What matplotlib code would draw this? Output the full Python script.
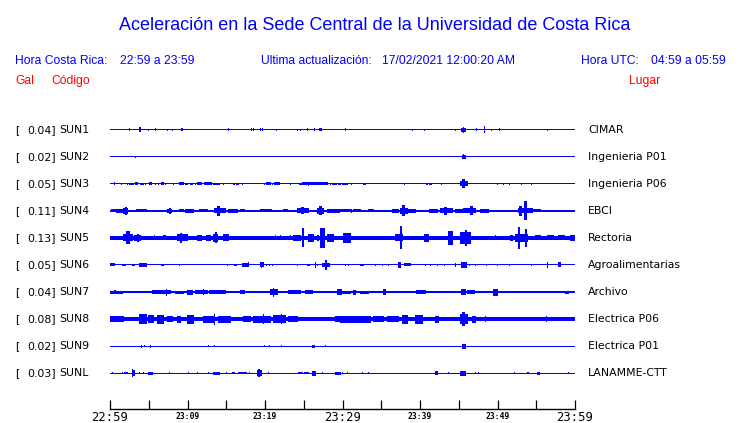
import matplotlib
matplotlib.use("Agg")
import matplotlib.pyplot as plt
from matplotlib import transforms

# ---------------- data ----------------
title = "Aceleración en la Sede Central de la Universidad de Costa Rica"
codes = ["SUN1", "SUN2", "SUN3", "SUN4", "SUN5", "SUN6", "SUN7", "SUN8", "SUN9", "SUNL"]
peak_gal = [0.04, 0.02, 0.05, 0.11, 0.13, 0.05, 0.04, 0.08, 0.02, 0.03]
places = ["CIMAR", "Ingenieria P01", "Ingenieria P06", "EBCI", "Rectoria",
          "Agroalimentarias", "Archivo", "Electrica P06", "Electrica P01", "LANAMME-CTT"]
tick_minutes = list(range(0, 61, 5))
label_minutes = [0, 10, 20, 30, 40, 50, 60]
tick_labels = ["22:59", "23:09", "23:19", "23:29", "23:39", "23:49", "23:59"]
big_labels = ["22:59", "23:29", "23:59"]

SAMPLES = 465          # samples in the 60-minute record
RECORD_MIN = 60
TRACE_GAP = 27         # counts between traces

# background noise half-amplitude per trace (counts)
noise = [0.5, 0.5, 0.5, 0.6, 1.8, 0.5, 0.6, 1.6, 0.5, 0.5]

# bursts per trace: (first sample, last sample, half-amplitude in counts)
sun1 = [(19,19,1.5),(29,30,2.5),(38,38,1),(45,45,1.5),(57,57,0.8),(62,62,0.8),(71,72,1.5),
        (118,118,1.5),(141,141,1.5),(143,143,1.5),(150,150,1.5),(152,152,1.5),(166,166,0.8),
        (187,187,0.8),(190,190,0.8),(197,197,1.5),(204,204,1.5),(209,211,1.5),(235,235,1.5),
        (302,302,1.2),(314,314,1.2),(345,345,1.2),(351,355,2),(353,353,3),(366,366,1.5),
        (374,374,3.5),(381,381,1.2),(389,389,1.5),(437,437,0.8)]
sun2 = [(25,25,1),(352,355,1.8),(353,353,2.5)]
sun3 = [(4,4,1.5),(11,11,0.8),(17,17,0.8),(19,23,1),(25,27,1.5),(30,33,1.2),(35,35,1),(39,41,1.5),
        (45,45,1),(48,48,1),(51,53,1.5),(55,55,1),(63,63,1),(69,73,1.5),(75,77,1.2),(80,82,1.2),
        (85,85,1),(87,91,1.5),(94,101,1.5),(103,109,0.9),(113,113,1),(123,124,1.2),(126,128,1),
        (132,132,0.8),(154,154,1),(156,160,1.5),(162,162,1),(164,169,1.5),(180,180,1),(189,191,1.2),
        (192,198,1.5),(198,198,2),(198,217,1.5),(220,220,1),(222,226,1.2),(228,230,1.2),(232,232,1),
        (232,237,1.2),(241,241,1),(253,255,1),(294,294,0.8),(316,317,1.2),(319,321,1.2),(331,331,0.8),
        (350,357,2.5),(352,354,4.5),(387,387,1),(393,393,1),(399,399,1),(411,411,0.8),(421,421,0.8)]
sun4 = [(1,6,1.5),(6,17,1.8),(13,17,3),(15,16,4),(19,23,1.2),(26,36,1.5),(41,43,1.2),(45,47,1.2),
        (51,52,1.2),(57,61,2),(59,60,3),(63,65,1.2),(69,73,1.5),(75,83,2),(89,97,1.5),(99,101,1.2),
        (104,115,2.5),(107,109,5),(118,127,2),(130,134,1.5),(139,142,1.2),(150,161,1.5),(167,167,1),
        (173,177,1.5),(181,183,1.2),(187,198,2.5),(191,193,3.5),(207,213,3),(209,211,4.5),
        (217,229,2),(230,240,1.5),(241,241,2),(243,250,1.5),(254,254,1),(258,263,1.5),(269,273,1.2),
        (278,278,1.2),(282,288,2),(290,297,3),(292,294,5.5),(298,305,2),(309,312,1.2),(314,317,1.2),
        (319,327,2),(330,342,2.5),(334,336,4),(345,353,2),(353,365,2.5),(360,362,4.5),(370,378,2),
        (382,388,1.2),(395,395,1),(408,422,2.5),(409,411,5),(414,416,9.5),(423,430,1.5),(437,437,1),
        (443,452,1),(457,460,1.2),(462,465,1.2)]
sun5 = [(13,22,3.5),(16,19,6.5),(24,30,3),(27,28,4),(44,44,2.5),(53,55,2.5),(67,77,3.5),(70,71,5),
        (87,91,3),(96,100,3),(103,107,4),(105,106,5.5),(113,118,3.5),(165,165,2.5),(170,170,2.5),
        (180,180,2.5),(183,190,3),(192,193,9.5),(198,203,4),(207,208,3),(210,214,10),(217,223,4),
        (233,240,5),(285,292,3.5),(290,291,11.5),(314,318,4),(338,342,7),(350,360,6),(355,356,8),
        (385,385,2.5),(400,402,3),(405,417,4),(408,409,11),(415,416,9),(425,430,2.5),(437,443,2.5),
        (448,454,2.5),(460,465,3)]
sun6 = [(0,4,1.5),(12,15,1.2),(22,24,1.2),(29,36,2),(51,53,1.2),(69,69,0.8),(117,117,0.8),
        (124,126,1.2),(132,137,2),(138,138,2.5),(150,153,2.5),(151,151,3),(156,156,1.2),(159,159,1.2),
        (162,162,1.2),(187,187,0.8),(197,199,1.2),(205,205,3),(207,207,1.2),(212,219,2),(215,216,5),
        (235,235,1.2),(238,238,1.2),(250,253,1.2),(265,265,1),(272,272,1),(278,278,1),(288,290,3),
        (294,300,1.5),(315,315,1),(320,320,1),(327,327,1),(334,334,1),(345,345,2),(351,356,3),
        (359,359,1.2),(365,365,1.2),(376,376,1.2),(387,387,1),(399,399,1),(421,421,1.2),(437,437,3),
        (448,450,2.5)]
sun7 = [(0,12,1.5),(4,5,2),(27,37,1),(42,60,1.8),(56,56,3.5),(65,73,1.5),(77,82,2.5),(85,97,1.8),
        (93,93,3),(99,115,1.8),(122,122,1),(130,134,2),(149,153,1.2),(160,167,3),(163,163,4.5),
        (170,173,1.2),(178,190,2),(195,202,1.8),(207,207,1.2),(213,213,1.2),(227,231,3),(230,240,1.5),
        (243,245,2.5),(250,258,1.5),(273,275,3),(296,298,1.2),(306,315,2),(322,324,1.2),(330,332,1.2),
        (340,340,1),(351,355,3),(357,364,2),(372,372,1.2),(377,377,1.2),(383,387,3.5),(403,404,1),
        (410,412,1.2),(425,425,1),(438,438,1),(443,443,1),(455,458,1.5)]
sun8 = [(0,13,3),(29,36,5),(38,43,4),(47,53,4.5),(57,62,3),(67,70,3.5),(77,83,4.5),(93,103,3.5),
        (104,104,5.5),(108,120,3.5),(133,140,3),(143,160,3.5),(153,153,5),(163,175,4),(171,171,5),
        (178,187,3),(225,235,3),(230,260,3.5),(263,273,3),(277,288,3),(292,297,4.5),(305,312,4.5),
        (325,328,3.5),(350,357,5),(352,354,7),(362,365,3.5),(375,375,3),(377,465,1.8),(436,436,3)]
sun9 = [(31,31,1.5),(34,34,1),(40,40,1.5),(98,98,1),(104,104,1),(154,154,1),(159,159,0.8),
        (171,171,0.8),(202,204,1.5),(215,215,1),(352,355,2.5)]
sunl = [(2,2,1),(12,12,1),(14,17,1.2),(22,24,3),(22,22,4),(29,29,1),(33,33,1),(38,42,1.5),(59,59,1),
        (78,78,0.8),(87,87,0.8),(98,98,0.8),(103,109,1.5),(116,116,1),(122,124,1.2),(128,136,1),
        (139,139,1.2),(147,151,3),(148,149,4),(158,158,1.2),(188,192,1.2),(194,198,1.2),(202,205,2.5),
        (212,212,1),(225,230,1.5),(232,232,1),(237,237,1),(252,252,0.8),(258,258,0.8),(325,327,2),
        (338,338,1),(350,355,2.5),(365,365,1.2),(368,368,1.2),(404,404,1),(417,418,1.2),(427,429,1.5),
        (458,458,1)]
bursts = [sun1, sun2, sun3, sun4, sun5, sun6, sun7, sun8, sun9, sunl]

# ---------------- figure ----------------
BLUE = "#0000ff"
RED = "#ff0000"
W, H = 740, 423
fig = plt.figure(figsize=(W / 100, H / 100), dpi=100)
fig.patch.set_facecolor("white")

ax = fig.add_axes([110 / W, 14 / H, 465 / W, 309 / H])
ax.set_xlim(0, RECORD_MIN)
ax.set_ylim(-279, 30)
ax.set_facecolor("none")

spm = SAMPLES / RECORD_MIN
for i, (base, evs) in enumerate(zip(noise, bursts)):
    off = -TRACE_GAP * i
    b = max(base, 0.5)
    ax.bar(0, 2 * b, width=RECORD_MIN, bottom=off - b, align="edge",
           color=BLUE, linewidth=0, antialiased=False)
    for s0, s1, a in evs:
        ax.bar(s0 / spm, 2 * a, width=(s1 - s0 + 1) / spm, bottom=off - a,
               align="edge", color=BLUE, linewidth=0, antialiased=False)

for side in ("top", "left", "right"):
    ax.spines[side].set_visible(False)
ax.spines["bottom"].set_linewidth(1.0)
ax.spines["bottom"].set_color("black")
ax.set_yticks([])
ax.set_xticks(tick_minutes)
ax.set_xticklabels([])
ax.tick_params(axis="x", direction="in", length=6.6, width=0.9, color="black")

# time labels
tl = transforms.blended_transform_factory(ax.transData, fig.transFigure)
for m, lab in zip(label_minutes, tick_labels):
    if lab in big_labels:
        ax.text(m, 1 - 420.5 / H, lab, transform=tl, ha="center", va="baseline",
                fontsize=8.8, family="DejaVu Sans Mono")
    else:
        ax.text(m, 1 - 418.5 / H, lab, transform=tl, ha="center", va="baseline",
                fontsize=5.8, family="DejaVu Sans Mono", fontweight="bold")

# trace labels
tr = transforms.blended_transform_factory(fig.transFigure, ax.transData)
for i, (code, g, place) in enumerate(zip(codes, peak_gal, places)):
    off = -TRACE_GAP * i
    fig.text(15 / W, off, "[", transform=tr, va="center", ha="left", fontsize=7.8,
             family="DejaVu Sans")
    fig.text(56 / W, off, f"{g:.2f}]", transform=tr, va="center", ha="right", fontsize=7.8,
             family="DejaVu Sans")
    fig.text(59 / W, off, code, transform=tr, va="center", ha="left", fontsize=7.8,
             family="DejaVu Sans")
    fig.text(588 / W, off, place, transform=tr, va="center", ha="left", fontsize=7.8,
             family="DejaVu Sans")

# header
hf = "Liberation Sans"
fig.text(375 / W, 1 - 30 / H, title, ha="center", va="baseline", fontsize=13, color=BLUE, family=hf)
row = 1 - 61 / H
fig.text(15 / W, row, "Hora Costa Rica:", ha="left", va="center", fontsize=8.7, color=BLUE, family=hf)
fig.text(120 / W, row, "22:59 a 23:59", ha="left", va="center", fontsize=8.7, color=BLUE, family=hf)
fig.text(261 / W, row, "Ultima actualización:", ha="left", va="center", fontsize=8.7, color=BLUE, family=hf)
fig.text(382 / W, row, "17/02/2021 12:00:20 AM", ha="left", va="center", fontsize=8.7, color=BLUE, family=hf)
fig.text(581 / W, row, "Hora UTC:", ha="left", va="center", fontsize=8.7, color=BLUE, family=hf)
fig.text(651 / W, row, "04:59 a 05:59", ha="left", va="center", fontsize=8.7, color=BLUE, family=hf)
row2 = 1 - 81 / H
fig.text(15 / W, row2, "Gal", ha="left", va="center", fontsize=8.7, color=RED, family=hf)
fig.text(51 / W, row2, "Código", ha="left", va="center", fontsize=8.7, color=RED, family=hf)
fig.text(629 / W, row2, "Lugar", ha="left", va="center", fontsize=8.7, color=RED, family=hf)

fig.savefig("out.png", dpi=100, facecolor="white")
